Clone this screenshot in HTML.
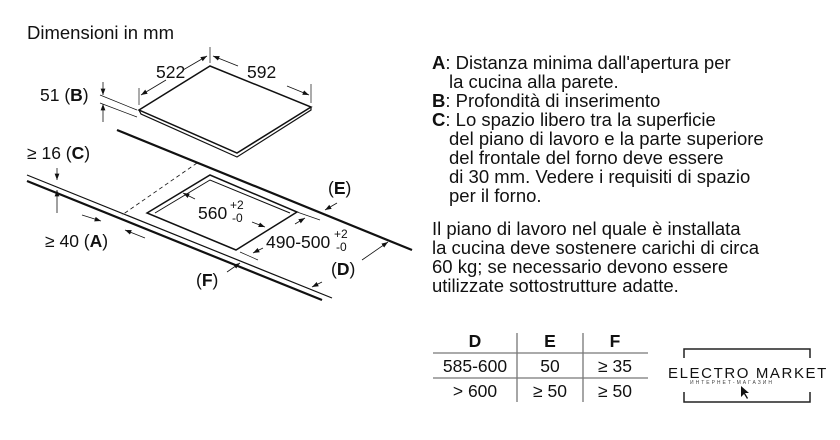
<!DOCTYPE html><html><head><style>
body{margin:0;background:#fff;width:840px;height:440px;overflow:hidden;font-family:"Liberation Sans",sans-serif;color:#111}
.t{position:absolute;font-size:18.5px;line-height:19px}
</style></head><body>
<div class="t" style="left:27px;top:23px">Dimensioni in mm</div>
<div class="t" style="left:432px;top:53px;width:408px">
<b>A</b>: Distanza minima dall'apertura per<br><span style="padding-left:17px">la cucina alla parete.</span><br>
<b>B</b>: Profondità di inserimento<br>
<b>C</b>: Lo spazio libero tra la superficie<br>
<span style="padding-left:17px">del piano di lavoro e la parte superiore</span><br>
<span style="padding-left:17px">del frontale del forno deve essere</span><br>
<span style="padding-left:17px">di 30 mm. Vedere i requisiti di spazio</span><br>
<span style="padding-left:17px">per il forno.</span></div>
<div class="t" style="left:432px;top:219px">Il piano di lavoro nel quale è installata<br>la cucina deve sostenere carichi di circa<br>60 kg; se necessario devono essere<br>utilizzate sottostrutture adatte.</div>
<svg width="840" height="440" style="position:absolute;left:0;top:0" font-family="Liberation Sans" font-size="17.5" fill="#111">
<defs><marker id="a" markerWidth="8" markerHeight="6" refX="8" refY="3" orient="auto"><path d="M0,0L8,3L0,6z" fill="#111"/></marker></defs>
<g stroke="#111" fill="none">
<path d="M139,110L210,66L311,107L237,153Z" stroke-width="1.5"/>
<path d="M139,110L141,114L237,157L311,110L311,107" stroke-width="1.2"/>
<path d="M139,88V105M210,47V63M311,84V103" stroke-width="0.7"/>
<path d="M166,80L141,95" marker-end="url(#a)" stroke-width="0.8"/>
<path d="M183,70L207,56" marker-end="url(#a)" stroke-width="0.8"/>
<path d="M238,66L213,56" marker-end="url(#a)" stroke-width="0.8"/>
<path d="M287,86L309,95" marker-end="url(#a)" stroke-width="0.8"/>
<path d="M100,95L137,110M100,103L137,117" stroke-width="0.7"/>
<path d="M103,82V95" marker-end="url(#a)" stroke-width="0.8"/>
<path d="M103,122V104" marker-end="url(#a)" stroke-width="0.8"/>
<path d="M117,130L412,250" stroke-width="2.2"/>
<path d="M27,175L332,298" stroke-width="1.2"/>
<path d="M27,181L322,300" stroke-width="2.2"/>
<path d="M147,213L210,175L297,212L236,250Z" stroke-width="1.5"/>
<path d="M155,213L210,180L290,213" stroke-width="1"/>
<path d="M197,163L122,215" stroke-dasharray="4,3" stroke-width="0.8"/>
<path d="M57,168V180" marker-end="url(#a)" stroke-width="0.8"/>
<path d="M57,213V190" marker-end="url(#a)" stroke-width="0.8"/>
<path d="M82,215L101,221" marker-end="url(#a)" stroke-width="0.8"/>
<path d="M145,238L125,230" marker-end="url(#a)" stroke-width="0.8"/>
<path d="M195,199L183,193" marker-end="url(#a)" stroke-width="0.8"/>
<path d="M252,222L265,227" marker-end="url(#a)" stroke-width="0.8"/>
<path d="M297,212L320,220M240,252L258,260" stroke-width="0.7"/>
<path d="M295,224L305,218" marker-end="url(#a)" stroke-width="0.8"/>
<path d="M263,248L253,253" marker-end="url(#a)" stroke-width="0.8"/>
<path d="M337,203L325,210" marker-end="url(#a)" stroke-width="0.8"/>
<path d="M362,260L388,242" marker-end="url(#a)" stroke-width="0.8"/>
<path d="M322,282L312,287" marker-end="url(#a)" stroke-width="0.8"/>
<path d="M227,272L240,263" marker-end="url(#a)" stroke-width="0.8"/>
</g>
<text x="156" y="78">522</text><text x="247" y="78">592</text>
<text x="40" y="101">51 (<tspan font-weight="bold">B</tspan>)</text>
<text x="27" y="159">≥ 16 (<tspan font-weight="bold">C</tspan>)</text>
<text x="45" y="247">≥ 40 (<tspan font-weight="bold">A</tspan>)</text>
<text x="198" y="219">560</text><text x="230" y="209" font-size="12">+2</text><text x="232" y="222" font-size="12">-0</text>
<text x="266" y="248">490-500</text><text x="334" y="238" font-size="12">+2</text><text x="336" y="251" font-size="12">-0</text>
<text x="328" y="194">(<tspan font-weight="bold">E</tspan>)</text>
<text x="331" y="275">(<tspan font-weight="bold">D</tspan>)</text>
<text x="196" y="286">(<tspan font-weight="bold">F</tspan>)</text>
<g stroke="#777" stroke-width="1.3"><path d="M433,353H648M433,378H648M517,333V402M583,333V402"/></g>
<g text-anchor="middle"><text x="475" y="347" font-weight="bold">D</text><text x="550" y="347" font-weight="bold">E</text><text x="615" y="347" font-weight="bold">F</text>
<text x="475" y="372">585-600</text><text x="550" y="372">50</text><text x="615" y="372">≥ 35</text>
<text x="475" y="397">&gt; 600</text><text x="550" y="397">≥ 50</text><text x="615" y="397">≥ 50</text></g>
<path d="M684,358V349H810V358M684,392V402H810V392" stroke="#222" stroke-width="1.5" fill="none"/>
<text x="668" y="378" font-size="15" letter-spacing="1.6">ELECTRO MARKET</text>
<text x="690" y="384" font-size="5" letter-spacing="2" fill="#444">ИНТЕРНЕТ-МАГАЗИН</text>
<path d="M741,386l0,11l3,-3l3,5l1,-1l-3,-5l4,0z" fill="#111"/>
</svg>
</body></html>
